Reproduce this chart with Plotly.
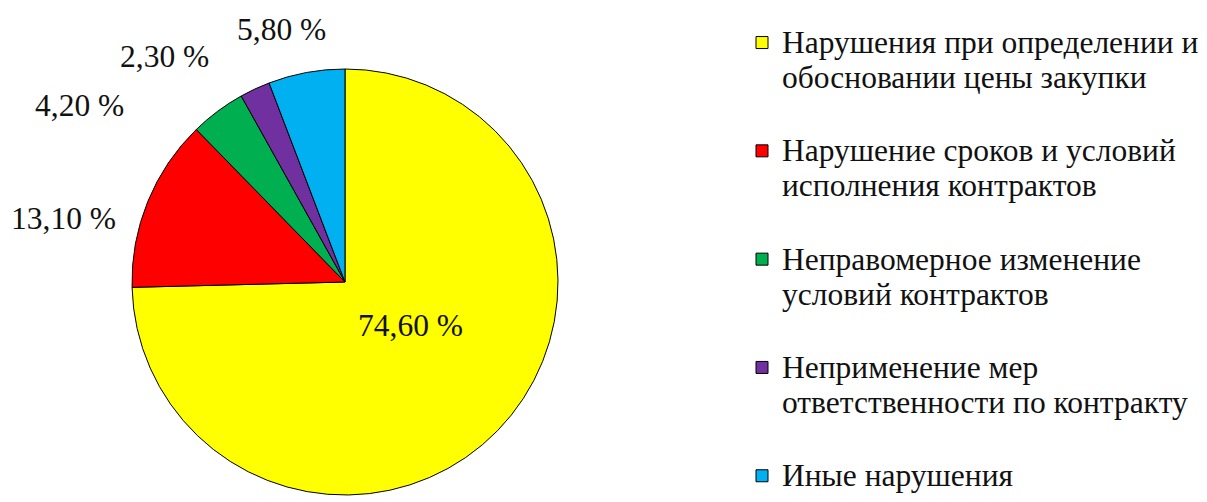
import plotly.graph_objects as go

categories = [
    "Нарушения при определении и<br>обосновании цены закупки",
    "Нарушение сроков и условий<br>исполнения контрактов",
    "Неправомерное изменение<br>условий контрактов",
    "Неприменение мер<br>ответственности по контракту",
    "Иные нарушения",
]
values = [74.6, 13.1, 4.2, 2.3, 5.8]
value_labels = ["74,60 %", "13,10 %", "4,20 %", "2,30 %", "5,80 %"]
colors = ["#FFFF00", "#FF0000", "#00B050", "#7030A0", "#00B0F0"]

# layout settings; page has an 8px body margin, figure fills the rest
PAGE_OFF = 8
W, H = 1207 - PAGE_OFF, 502 - PAGE_OFF
CX, CY, R = 345 - PAGE_OFF, 282 - PAGE_OFF, 213
# page-pixel centres of the value labels (layout only)
label_pos_px = [(410, 325), (63, 218), (79, 105), (164, 56), (281, 30)]

FONT = "Liberation Serif"
TXT_SIZE = 31.5
LEG_BASE = 27

def legend_text(name, last):
    lines = name.split("<br>")
    styled = "<br>".join(
        f"<span style='font-family:{FONT};font-size:{TXT_SIZE}px'>{ln}</span>" for ln in lines
    )
    return styled if last else styled + "<br> "

legend_names = [legend_text(c, i == len(categories) - 1) for i, c in enumerate(categories)]

fig = go.Figure(go.Pie(
    labels=legend_names,
    values=values,
    textinfo="none",
    sort=False,
    direction="clockwise",
    rotation=0,
    marker=dict(colors=colors, line=dict(color="#000000", width=1)),
    domain=dict(x=[(CX - R) / W, (CX + R) / W], y=[1 - (CY + R) / H, 1 - (CY - R) / H]),
    showlegend=True,
    hoverinfo="skip",
))

for lbl, pos in zip(value_labels, label_pos_px):
    fig.add_annotation(
        x=(pos[0] - PAGE_OFF) / W, y=1 - (pos[1] - PAGE_OFF) / H,
        xref="paper", yref="paper",
        text=lbl, showarrow=False, xanchor="center", yanchor="middle",
        font=dict(family=FONT, size=TXT_SIZE, color="#111111"),
    )

fig.update_layout(
    width=W, height=H,
    margin=dict(l=0, r=0, t=0, b=0, autoexpand=False),
    paper_bgcolor="white",
    plot_bgcolor="white",
    font=dict(family=FONT),
    legend=dict(
        x=734 / W, y=1 - 10.5 / H, xanchor="left", yanchor="top",
        font=dict(family=FONT, size=LEG_BASE, color="#111111"),
        itemwidth=30,
        valign="top",
        traceorder="normal",
    ),
)

fig.write_html("out.html")
